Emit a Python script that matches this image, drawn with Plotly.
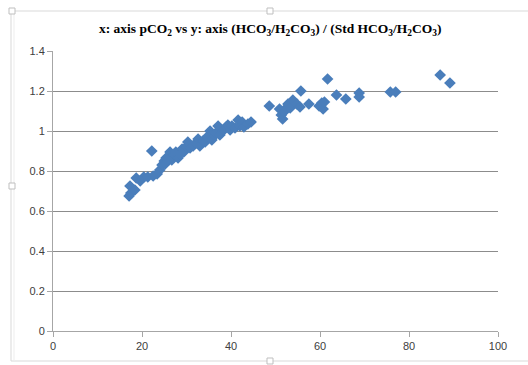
import plotly.graph_objects as go

pco2 = [17.1, 17.5, 17.3, 18.4, 18.7, 19.6, 20.4, 21.3, 22.2, 22.5, 23.4, 24.0, 24.5, 25.0,
        25.4, 25.2, 26.3, 25.8, 26.7, 27.2, 27.6, 28.1, 28.5, 29.0, 29.4, 29.9, 30.3, 30.8,
        31.5, 32.1, 32.6, 33.0, 33.7, 34.2, 34.6, 35.3, 35.7, 36.2, 36.6, 37.1, 37.5, 38.0,
        38.4, 38.9, 39.3, 39.8, 40.2, 40.9, 41.6, 42.0, 42.5, 42.9, 43.8, 44.5,
        48.6, 50.9, 51.3, 51.6, 51.9, 52.4, 52.8, 53.3, 53.9, 54.8, 55.7, 55.5, 57.5, 59.8,
        60.4, 60.7, 61.0, 61.7, 63.7, 65.8, 68.8, 68.8, 75.8, 77.0, 87.0, 89.2]
ratio = [0.675, 0.69, 0.725, 0.705, 0.765, 0.75, 0.77, 0.77, 0.90, 0.775, 0.785, 0.805, 0.83, 0.85,
         0.865, 0.835, 0.895, 0.855, 0.855, 0.88, 0.895, 0.865, 0.885, 0.91, 0.895, 0.92, 0.945, 0.915,
         0.925, 0.94, 0.96, 0.925, 0.95, 0.945, 0.97, 1.0, 0.955, 0.975, 0.99, 1.025, 0.98, 1.0,
         1.005, 1.02, 1.03, 1.005, 1.025, 1.015, 1.055, 1.025, 1.045, 1.02, 1.035, 1.045,
         1.125, 1.11, 1.08, 1.06, 1.095, 1.115, 1.135, 1.115, 1.155, 1.135, 1.20, 1.12, 1.135, 1.125,
         1.14, 1.11, 1.145, 1.26, 1.18, 1.16, 1.19, 1.17, 1.195, 1.195, 1.28, 1.24]

x_ticks = [0, 20, 40, 60, 80, 100]
y_ticks = [0, 0.2, 0.4, 0.6, 0.8, 1, 1.2, 1.4]

title_text = ("<b>x: axis pCO<sub>2</sub> vs y: axis (HCO<sub>3</sub>/H<sub>2</sub>CO<sub>3</sub>) / "
              "(Std HCO<sub>3</sub>/H<sub>2</sub>CO<sub>3</sub>)</b>")

W, H = 528, 365
L, R, T, B = 53, 528 - 498, 51, 365 - 331
pw, ph = W - L - R, H - T - B

def px(xs):
    return (xs - L) / pw

def py(ys):
    return (H - B - ys) / ph

fig = go.Figure()
fig.add_trace(go.Scatter(
    x=pco2, y=ratio, mode="markers",
    marker=dict(symbol="diamond", size=9, color="#4A7EBB", line=dict(width=0)),
    showlegend=False,
))

frame_col = "#D9D9D9"
def seg(x0, y0, x1, y1, col=frame_col):
    return dict(type="line", xref="paper", yref="paper", x0=px(x0), x1=px(x1), y0=py(y0), y1=py(y1),
                line=dict(color=col, width=1), layer="below")

shapes = [
    seg(11, 11, 11, 361),
    seg(11, 11, 540, 11),
    seg(11, 361, 540, 361),
    seg(14, 11, 14, 361, "#EDEDED"),
]
for hx, hy in [(12, 11), (270, 11), (12, 186), (270, 361)]:
    shapes.append(dict(type="rect", xref="paper", yref="paper",
                       x0=px(hx - 3), x1=px(hx + 3), y0=py(hy + 3), y1=py(hy - 3),
                       line=dict(color="#BFBFBF", width=1), fillcolor="white"))

fig.update_layout(
    width=W, height=H,
    margin=dict(l=L, r=R, t=T, b=B),
    paper_bgcolor="white", plot_bgcolor="white",
    shapes=shapes,
    annotations=[dict(text=title_text, xref="paper", yref="paper", x=px(270), y=py(29),
                      xanchor="center", yanchor="middle", showarrow=False,
                      font=dict(family="Liberation Serif", size=13.5, color="black"))],
    xaxis=dict(range=[0, 100], tickvals=x_ticks, showgrid=False, zeroline=False,
               showline=True, linecolor="#A6A6A6", linewidth=1,
               ticks="outside", ticklen=5, tickcolor="#A6A6A6",
               tickfont=dict(family="Liberation Sans", size=11, color="#404040")),
    yaxis=dict(range=[0, 1.4], tickvals=y_ticks, showgrid=True, gridcolor="#8C8C8C", gridwidth=1,
               zeroline=False, showline=True, linecolor="#A6A6A6", linewidth=1,
               ticks="outside", ticklen=5, tickcolor="#A6A6A6",
               tickfont=dict(family="Liberation Sans", size=11, color="#404040")),
)

fig.write_html("out.html", config={"displayModeBar": False},
               post_script="document.body.style.margin='0';document.body.style.overflow='hidden';")
